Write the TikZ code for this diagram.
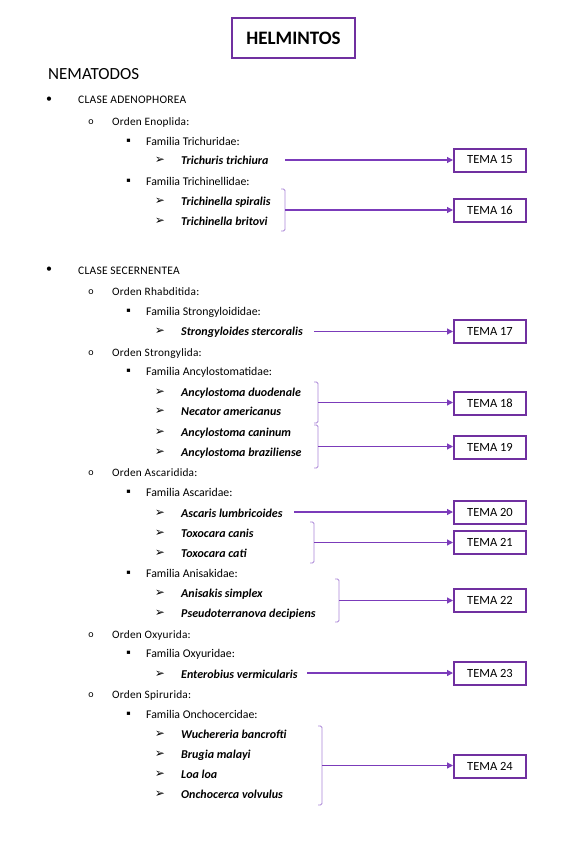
\documentclass[tikz,border=0pt]{standalone}
\usepackage{fontspec}
\setmainfont{Carlito}
\newfontfamily\symfont{DejaVu Sans}
\usetikzlibrary{arrows.meta}

\definecolor{temapurple}{HTML}{7030A0}
\definecolor{arrowpurple}{HTML}{7B3BBA}
\definecolor{bracketpurple}{HTML}{A985D6}

\tikzset{
  every node/.style={inner sep=0pt},
  titlebox/.style={draw=temapurple, line width=2pt, minimum width=123pt, minimum height=40pt, font=\fontsize{19}{21}\selectfont\bfseries},
  heading/.style={anchor=base west, font=\fontsize{17}{19}\selectfont},
  clase/.style={anchor=base west, font=\fontsize{11.5}{13}\selectfont\addfontfeature{LetterSpace=2}},
  orden/.style={anchor=base west, font=\fontsize{11.3}{13}\selectfont\addfontfeature{LetterSpace=2}},
  familia/.style={anchor=base west, font=\fontsize{11.8}{14}\selectfont},
  especie/.style={anchor=base west, font=\fontsize{12}{14}\selectfont\bfseries\itshape},
  mark0/.style={anchor=center, font=\fontsize{12}{14}\selectfont},
  mark1/.style={anchor=center, font=\fontsize{10}{12}\selectfont},
  mark2/.style={anchor=center, font=\symfont\fontsize{6.5}{8}\selectfont},
  mark3/.style={anchor=center, font=\symfont\fontsize{12}{13}\selectfont\bfseries},
  tema/.style={draw=temapurple, line width=2pt, minimum width=72pt, minimum height=23pt, font=\fontsize{12.5}{14}\selectfont},
  link/.style={draw=arrowpurple, line width=1.2pt, -{Triangle[length=6pt,width=6pt]}},
  brace/.style={draw=bracketpurple, line width=0.9pt, rounded corners=1.5pt}
}

\begin{document}
\begin{tikzpicture}[x=1pt, y=-1pt]
\useasboundingbox (0,0) rectangle (587,848);

\node[titlebox] (title) at (293.5,38) {HELMINTOS};
\node[heading] (nema) at (48,80) {NEMATODOS};

% clases
\foreach \y/\txt [count=\i] in {100/CLASE ADENOPHOREA, 270/CLASE SECERNENTEA} {
    \node[mark0] (cm\i) at (49,\y) {•};
    \node[clase] (c\i) at (78,\y+4) {\txt};
}

% ordenes
\foreach \y/\txt [count=\i] in {121/Enoplida, 291/Rhabditida, 352/Strongylida, 472/Ascaridida, 634/Oxyurida, 694/Spirurida} {
    \node[mark1] (om\i) at (91,\y+1) {o};
    \node[orden] (o\i) at (112,\y+4) {Orden \txt:};
}

% familias
\foreach \y/\txt [count=\i] in {141/Trichuridae, 181/Trichinellidae, 311/Strongyloididae, 371/Ancylostomatidae, 492/Ascaridae, 573/Anisakidae, 653/Oxyuridae, 714/Onchocercidae} {
    \node[mark2] (fm\i) at (128.5,\y) {▪};
    \node[familia] (f\i) at (146,\y+4) {Familia \txt:};
}

% especies
\foreach \y/\txt [count=\i] in {160/Trichuris trichiura, 201/Trichinella spiralis, 221/Trichinella britovi,
    331/Strongyloides stercoralis, 392/Ancylostoma duodenale, 411/Necator americanus,
    432/Ancylostoma caninum, 452/Ancylostoma braziliense, 513/Ascaris lumbricoides,
    533/Toxocara canis, 553/Toxocara cati, 593/Anisakis simplex, 613/Pseudoterranova decipiens,
    674/Enterobius vermicularis, 734/Wuchereria bancrofti, 754/Brugia malayi, 774/Loa loa,
    794/Onchocerca volvulus} {
    \node[mark3] (sm\i) at (160,\y) {➢};
    \node[especie] (s\i) at (181,\y+4) {\txt};
}

% temas
\foreach \n/\y in {15/160, 16/210, 17/331.5, 18/403, 19/447, 20/512, 21/542.5, 22/600, 23/673, 24/766} {
    \node[tema] (t\n) at (490,\y) {TEMA \n};
}

% flechas sueltas
\foreach \n/\x/\y in {15/285/160, 17/314/331.5, 20/294/512, 23/307/673} {
    \coordinate (k\n) at (\x,\y);
    \draw[link] (k\n) -- (t\n);
}

% corchetes
\foreach \n/\x/\top/\bot in {16/285/189/231, 18/318/382/423, 19/318/425/468, 21/314/522/563, 22/339/579/622, 24/322/726/805} {
    \draw[brace] (\x-4,\top) -- (\x,\top) -- (\x,\bot) -- (\x-4,\bot);
    \coordinate (k\n) at (\x,{(\top+\bot)/2});
    \draw[link] (k\n) -- (k\n -| t\n.west);
}
\end{tikzpicture}
\end{document}
